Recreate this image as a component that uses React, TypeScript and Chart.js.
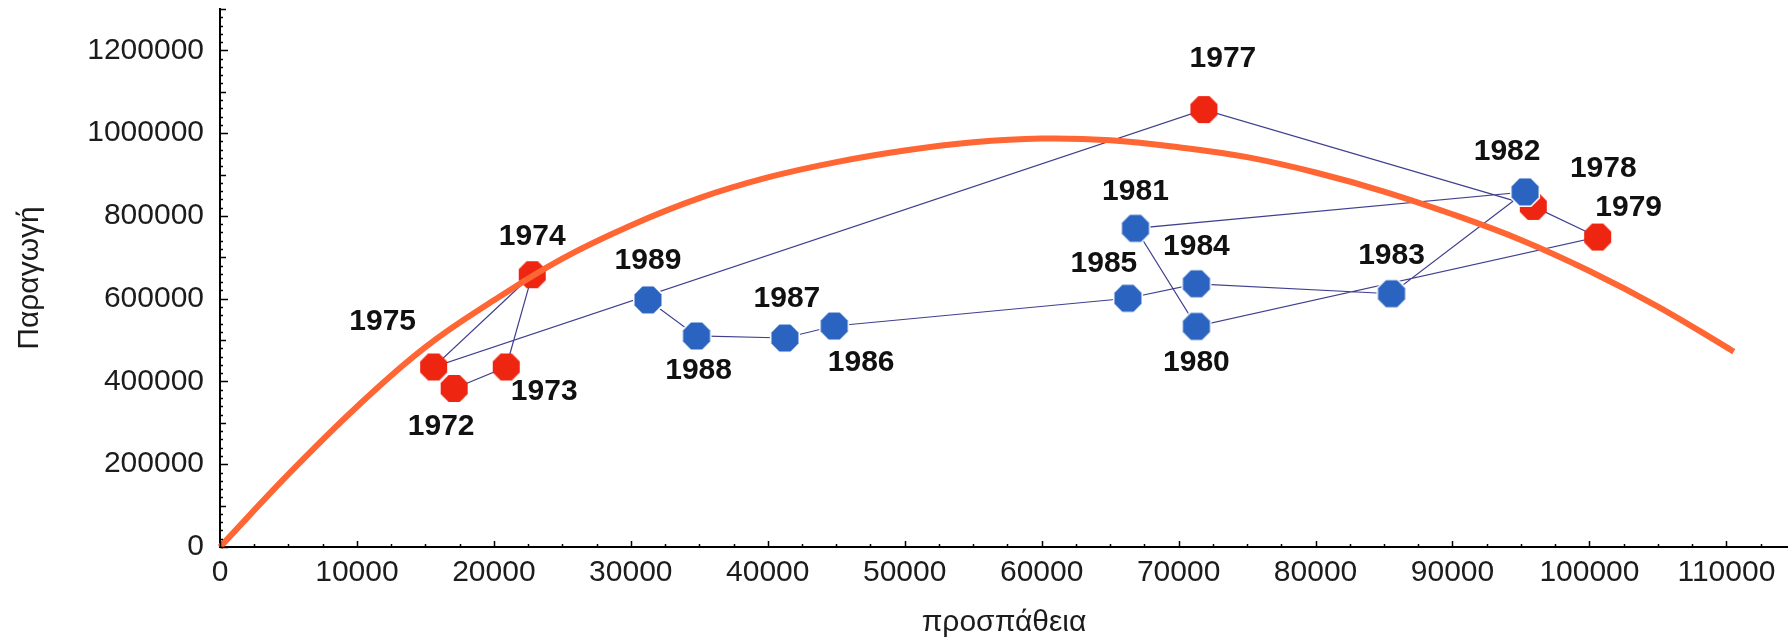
import React, { useEffect, useRef } from "react";
import { Chart, registerables } from "chart.js";

Chart.register(...registerables);

// Yearly observations: fishing effort (x) against production (y)
const years = [1972, 1973, 1974, 1975, 1977, 1978, 1979, 1980, 1981, 1982, 1983, 1984, 1985, 1986, 1987, 1988, 1989];
const effort = [17100, 20900, 22800, 15600, 71850, 95900, 100600, 71300, 66850, 95300, 85550, 71300, 66300, 44850, 41250, 34800, 31250];
const production = [383000, 435000, 658000, 435000, 1057000, 823000, 749000, 533000, 770000, 858000, 612000, 636000, 601000, 534000, 505000, 510000, 597000];
const firstLateYear = 1980;

// Fitted production curve, sampled every 5000 units of effort
const curveEffort = [0, 5000, 10000, 15000, 20000, 25000, 30000, 35000, 40000, 45000, 50000, 55000, 60000, 65000, 70000, 75000, 80000, 85000, 90000, 95000, 100000, 105000, 110000, 110540];
const curveProduction = [0, 176000, 339000, 483000, 596000, 697000, 777000, 843000, 893000, 930000, 958000, 978000, 987000, 983000, 966000, 942000, 905000, 859000, 804000, 742000, 667000, 581000, 483000, 472000];

// Axis tick labels
const xTickValues = [0, 10000, 20000, 30000, 40000, 50000, 60000, 70000, 80000, 90000, 100000, 110000];
const yTickValues = [0, 200000, 400000, 600000, 800000, 1000000, 1200000];

// Where each year label sits relative to its marker (px)
const labelOffsets: Record<number, [number, number]> = {
  1972: [-13, 38], 1973: [38, 25], 1974: [0, -38], 1975: [-51, -45],
  1977: [19, -51], 1978: [70, -38], 1979: [31, -29], 1980: [0, 36],
  1981: [0, -37], 1982: [-18, -40], 1983: [0, -38], 1984: [0, -37],
  1985: [-24, -35], 1986: [27, 37], 1987: [2, -39], 1988: [2, 35], 1989: [0, -39],
};

const RED = "#ee2510";
const BLUE = "#2a64c0";
const PATH = "#40408f";
const CURVE = "#ff6633";
const TEXT = "#1c1c1c";
const FONT = "'Liberation Sans', Arial, sans-serif";

function octagon(fill: string, r: number, ring: number): HTMLCanvasElement {
  const size = Math.ceil(2 * (r + ring) + 2);
  const c = document.createElement("canvas");
  c.width = size;
  c.height = size;
  const g = c.getContext("2d")!;
  const cx = size / 2;
  const R = r / Math.cos(Math.PI / 8);
  g.beginPath();
  for (let i = 0; i < 8; i++) {
    const a = Math.PI / 8 + (i * Math.PI) / 4;
    const px = cx + R * Math.cos(a);
    const py = cx + R * Math.sin(a);
    if (i === 0) g.moveTo(px, py);
    else g.lineTo(px, py);
  }
  g.closePath();
  if (ring > 0) {
    g.lineWidth = ring * 2;
    g.strokeStyle = "#ffffff";
    g.stroke();
  }
  g.fillStyle = fill;
  g.fill();
  return c;
}

const axisDecor = {
  id: "axisDecor",
  afterDraw(chart: any) {
    const { ctx, chartArea, scales } = chart;
    const x = scales.x;
    const y = scales.y;
    ctx.save();
    ctx.strokeStyle = "#000";
    ctx.lineWidth = 1.5;
    ctx.beginPath();
    for (let v = 0; v <= x.max + 1; v += 2500) {
      const px = Math.round(x.getPixelForValue(v)) + 0.5;
      const len = v % 10000 === 0 ? 6 : 3;
      ctx.moveTo(px, chartArea.bottom);
      ctx.lineTo(px, chartArea.bottom - len);
    }
    for (let v = 0; v <= y.max + 1; v += 20000) {
      const py = Math.round(y.getPixelForValue(v)) + 0.5;
      const len = v % 200000 === 0 ? 8 : v % 100000 === 0 ? 6 : 3;
      ctx.moveTo(chartArea.left, py);
      ctx.lineTo(chartArea.left + len, py);
    }
    ctx.stroke();
    ctx.restore();
  },
  afterDatasetsDraw(chart: any) {
    const { ctx, scales } = chart;
    ctx.save();
    ctx.font = `bold 30px ${FONT}`;
    ctx.fillStyle = "#111";
    ctx.textAlign = "center";
    ctx.textBaseline = "middle";
    years.forEach((yr, i) => {
      const [dx, dy] = labelOffsets[yr] || [0, -38];
      const px = scales.x.getPixelForValue(effort[i]);
      const py = scales.y.getPixelForValue(production[i]);
      ctx.fillText(String(yr), px + dx, py + dy);
    });
    ctx.restore();
  },
};

export default function App() {
  const ref = useRef<HTMLCanvasElement | null>(null);

  useEffect(() => {
    document.body.style.margin = "0";
    const canvas = ref.current;
    if (!canvas) return;

    const pathPoints = years.map((_, i) => ({ x: effort[i], y: production[i] }));
    const earlyPoints = pathPoints.filter((_, i) => years[i] < firstLateYear);
    const latePoints = pathPoints.filter((_, i) => years[i] >= firstLateYear);
    const curvePoints = curveEffort.map((e, i) => ({ x: e, y: curveProduction[i] }));

    const redMark = octagon(RED, 13.5, 0);
    const blueMark = octagon(BLUE, 13.5, 1.5);

    const chart = new Chart(canvas, {
      type: "scatter",
      data: {
        datasets: [
          {
            label: "curve",
            type: "line",
            data: curvePoints,
            borderColor: CURVE,
            borderWidth: 6,
            pointRadius: 0,
            tension: 0.4,
            fill: false,
            clip: false,
            order: 0,
          } as any,
          {
            label: "late",
            data: latePoints,
            pointStyle: blueMark,
            pointRadius: 14,
            backgroundColor: BLUE,
            borderWidth: 0,
            clip: false,
            order: 1,
          } as any,
          {
            label: "early",
            data: earlyPoints,
            pointStyle: redMark,
            pointRadius: 14,
            backgroundColor: RED,
            borderWidth: 0,
            clip: false,
            order: 2,
          } as any,
          {
            label: "path",
            type: "line",
            data: pathPoints,
            borderColor: PATH,
            borderWidth: 1.2,
            pointRadius: 0,
            tension: 0,
            fill: false,
            order: 3,
          } as any,
        ],
      },
      options: {
        responsive: false,
        animation: false,
        events: [],
        layout: { autoPadding: false, padding: { top: 9, right: 0, bottom: 0, left: 0 } },
        plugins: {
          legend: { display: false },
          tooltip: { enabled: false },
        },
        scales: {
          x: {
            type: "linear",
            position: "bottom",
            min: 0,
            max: 114500,
            afterBuildTicks: (s: any) => {
              s.ticks = xTickValues.map((v) => ({ value: v }));
            },
            afterFit: (s: any) => {
              s.height = 94;
              s.paddingLeft = 0;
              s.paddingRight = 0;
            },
            grid: { display: false, drawTicks: false },
            border: { display: true, color: "#000", width: 2 },
            ticks: {
              autoSkip: false,
              maxRotation: 0,
              padding: 8,
              color: TEXT,
              font: { family: FONT, size: 30 },
              callback: (v: any) => String(v),
            },
            title: {
              display: true,
              text: "προσπάθεια",
              color: TEXT,
              font: { family: FONT, size: 30 },
              padding: { top: 0, bottom: 0 },
            },
          },
          y: {
            type: "linear",
            min: 0,
            max: 1300000,
            afterBuildTicks: (s: any) => {
              s.ticks = yTickValues.map((v) => ({ value: v }));
            },
            afterFit: (s: any) => {
              s.width = 220;
              s.paddingTop = 0;
              s.paddingBottom = 0;
            },
            grid: { display: false, drawTicks: false },
            border: { display: true, color: "#000", width: 2 },
            ticks: {
              padding: 16,
              color: TEXT,
              font: { family: FONT, size: 30 },
              callback: (v: any) => String(v),
            },
            title: {
              display: true,
              text: "Παραγωγή",
              color: TEXT,
              font: { family: FONT, size: 30 },
              padding: { top: 12, bottom: 0 },
            },
          },
        },
      } as any,
      plugins: [axisDecor],
    });

    return () => chart.destroy();
  }, []);

  return (
    <div style={{ position: "absolute", left: 0, top: 0, width: 1788, height: 641, background: "#fff" }}>
      <canvas ref={ref} width={1788} height={641} style={{ display: "block", width: 1788, height: 641 }} />
    </div>
  );
}
